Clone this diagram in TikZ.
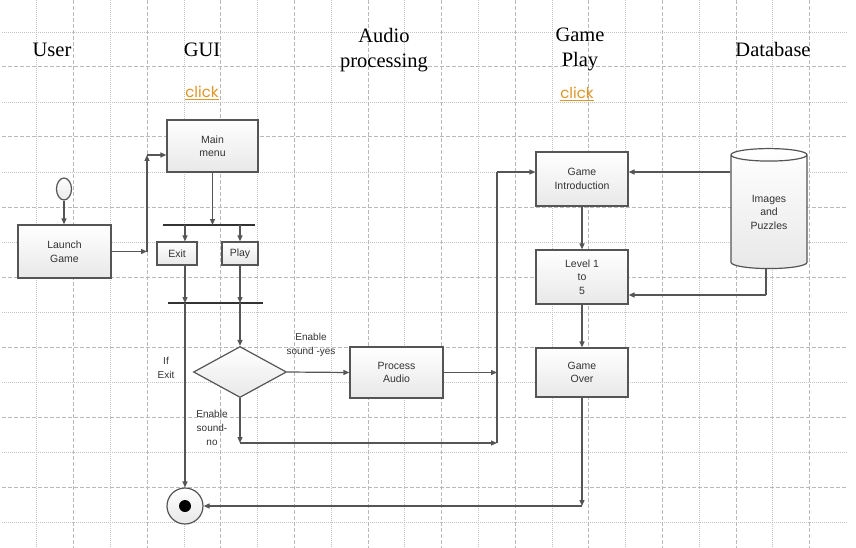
\documentclass[tikz,border=0pt]{standalone}
\usepackage{fontspec}
\setmainfont{Liberation Sans}
\newfontfamily\hdrfont{Liberation Serif}
\newfontfamily\clickfont{Poppins}
\usetikzlibrary{arrows.meta,shapes.geometric}
\definecolor{linegray}{RGB}{85,85,85}
\definecolor{gridgray}{RGB}{185,185,185}
\definecolor{clickorange}{RGB}{222,150,40}

\begin{document}
\begin{tikzpicture}[x=1pt,y=-1pt,
  griddot/.style={draw=gridgray!85,line width=0.9pt,dash pattern=on 1pt off 1pt},
  griddash/.style={draw=gridgray,line width=1pt,dash pattern=on 4pt off 2pt},
  box/.style={draw=linegray,line width=1.2pt,top color=white,bottom color=gray!18,
    font=\fontsize{10.5}{13.5}\selectfont,text=black!80,align=center,inner sep=0pt},
  hdr/.style={font=\hdrfont\fontsize{20.5}{25}\selectfont,align=center},
  clk/.style={font=\clickfont\fontsize{15}{18}\selectfont,text=clickorange},
  lbl/.style={font=\fontsize{10}{14}\selectfont,align=center,text=black!80},
  arr/.style={draw=linegray,line width=1.2pt,-{Triangle[length=6pt,width=5pt]}},
  ln/.style={draw=linegray,line width=1.2pt},
  bar/.style={draw=black!80,line width=1.8pt}]
\useasboundingbox[fill=white] (0,0) rectangle (856,548);
% grid
\foreach \y in {32,102,...,522} \draw[griddot] (2,\y) -- (848,\y);
\foreach \y in {67,137,...,487} \draw[griddash] (2,\y) -- (848,\y);
\foreach \k in {1,3,...,21} \draw[griddot] (36.8*\k,0) -- (36.8*\k,548);
\foreach \k in {2,4,...,22} \draw[griddash] (36.8*\k,0) -- (36.8*\k,548);

% lane titles
\node[hdr,anchor=base] (user) at (52,57) {User};
\node[hdr,anchor=base] (gui) at (202,57) {GUI};
\node[hdr] (audio) at (384,50) {Audio\\processing};
\node[hdr] (play) at (580,49) {Game\\Play};
\node[hdr,anchor=base] (data) at (773,57) {Database};
\node[clk,anchor=base] (click1) at (202,98) {\underline{click}};
\node[clk,anchor=base] (click2) at (577,99) {\underline{click}};

% nodes
\node[draw=linegray,line width=1.2pt,ellipse,minimum width=15,minimum height=22,
  top color=white,bottom color=gray!18,inner sep=0pt] (start) at (64,189) {};
\node[box,minimum width=93,minimum height=53] (launch) at (64.5,251.5) {Launch\\Game};
\node[box,minimum width=91,minimum height=52] (main) at (212.5,146) {Main\\menu};
\node[box,minimum width=40,minimum height=23] (exit) at (177,253.5) {Exit};
\node[box,minimum width=36,minimum height=23] (playb) at (240,253.5) {Play};
\node[box,shape=diamond,minimum width=93,minimum height=51] (dec) at (240,372) {};
\node[box,minimum width=93,minimum height=51] (proc) at (396.5,372.5) {Process\\Audio};
\node[box,minimum width=92,minimum height=54] (intro) at (582,179) {Game\\Introduction};
\node[box,minimum width=92,minimum height=54] (lev) at (582,277) {Level 1\\to\\5};
\node[box,minimum width=92,minimum height=49] (over) at (582,372.5) {Game\\Over};
\node[box,shape=cylinder,shape border rotate=90,aspect=0.34,
  minimum width=76,minimum height=120] (db) at (769,212) {Images\\and\\Puzzles};
\node[draw=linegray,line width=1.2pt,circle,minimum size=36,
  top color=white,bottom color=gray!18] (endc) at (185,506) {};
\node[fill=black,circle,minimum size=12,inner sep=0pt] (dot) at (185,506) {};

% labels
\node[lbl] (ifexit) at (166,368) {If\\Exit};
\node[lbl] (yeslbl) at (311,345) {Enable\\sound -yes};
\node[lbl] (nolbl) at (212,427.5) {Enable\\sound-\\no};

% bars and bends
\coordinate (b1l) at (163,225); \coordinate (b1r) at (255,225);
\coordinate (b2l) at (168,303); \coordinate (b2r) at (263,303);
\coordinate (xL) at (185,0); \coordinate (xR) at (240,0);
\coordinate (c1) at (147,251.5); \coordinate (c2) at (147,155);
\coordinate (n1) at (240,443); \coordinate (j3) at (497,443);
\coordinate (j2) at (497,372.5); \coordinate (j1) at (497,172);
\coordinate (d1) at (766,295); \coordinate (e1) at (582,506);
\draw[bar] (b1l) -- (b1r);
\draw[bar] (b2l) -- (b2r);

% connectors
\draw[arr] (start.south) -- (start.south |- launch.north);
\draw[arr] (launch) -- (c1);
\draw[arr] (c1) -- (c2);
\draw[arr] (c2) -- (c2 -| main.west);
\draw[arr] (main.south) -- (main.south |- b1l);
\draw[arr] (b1l -| xL) -- (exit.north -| xL);
\draw[arr] (b1l -| xR) -- (playb.north);
\draw[arr] (exit.south -| xL) -- (b2l -| xL);
\draw[arr] (playb.south) -- (b2l -| xR);
\draw[arr] (b2l -| xL) -- (endc.north);
\draw[arr] (b2l -| xR) -- (dec.north);
\draw[arr] (dec.east) -- (proc.west);
\draw[arr] (dec.south) -- (n1);
\draw[arr] (n1) -- (j3);
\draw[arr] (proc.east) -- (j2);
\draw[ln] (j3) -- (j1);
\draw[arr] (j1) -- (j1 -| intro.west);
\draw[arr] (j1 -| db.west) -- (j1 -| intro.east);
\draw[ln] (db.south -| d1) -- (d1);
\draw[arr] (d1) -- (d1 -| lev.east);
\draw[arr] (intro) -- (lev);
\draw[arr] (lev) -- (over);
\draw[arr] (over) -- (e1);
\draw[arr] (e1) -- (endc);
\end{tikzpicture}
\end{document}
